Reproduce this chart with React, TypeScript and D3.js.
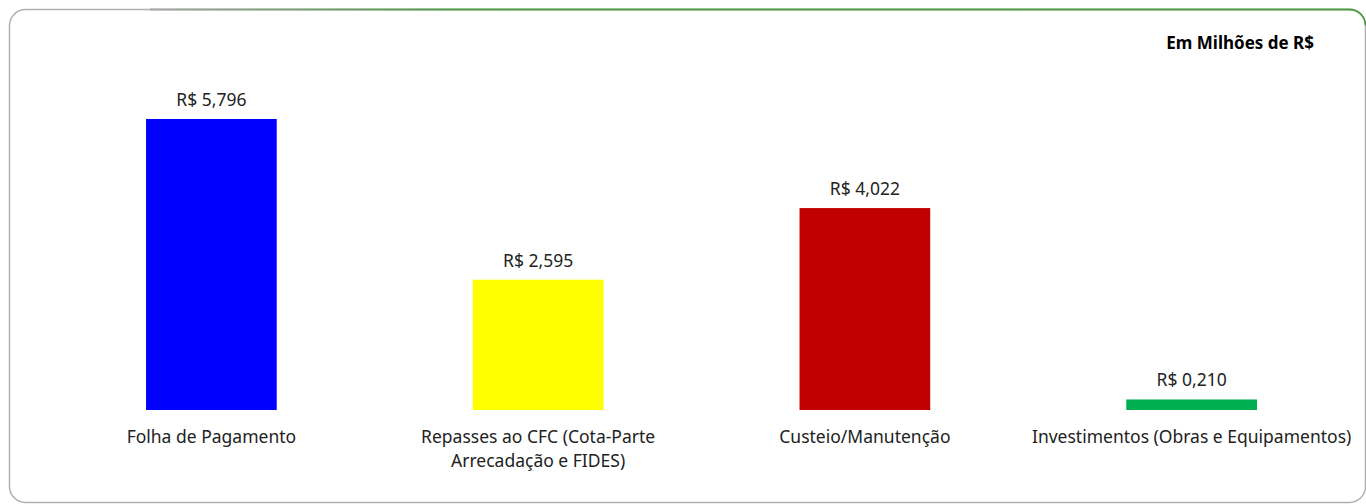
import React from "react";
import * as d3 from "d3";

const categories: string[][] = [
  ["Folha de Pagamento"],
  ["Repasses ao CFC (Cota-Parte", "Arrecadação e FIDES)"],
  ["Custeio/Manutenção"],
  ["Investimentos (Obras e Equipamentos)"],
];
const values: number[] = [5.796, 2.595, 4.022, 0.21];
const valueLabels: string[] = ["R$ 5,796", "R$ 2,595", "R$ 4,022", "R$ 0,210"];
const colors: string[] = ["#0000FF", "#FFFF00", "#C00000", "#00B050"];
const unitLabel = "Em Milhões de R$";

const W = 1366;
const H = 504;
const FONT = "'Noto Sans', 'Open Sans', sans-serif";

export default function App() {
  const keys = categories.map((_, i) => String(i));
  const x = d3
    .scaleBand<string>()
    .domain(keys)
    .range([48, 1355])
    .paddingInner(0.6)
    .paddingOuter(0.3);
  const y = d3.scaleLinear().domain([0, 5.796]).range([410, 119]);

  return (
    <svg
      width={W}
      height={H}
      style={{ position: "absolute", left: 0, top: 0, display: "block", background: "#fff" }}
    >
      <defs>
        <linearGradient id="borderGrad" gradientUnits="userSpaceOnUse" x1={150} y1={0} x2={450} y2={0}>
          <stop offset="0" stopColor="#a6a6a6" />
          <stop offset="1" stopColor="#4f9a45" />
        </linearGradient>
      </defs>
      <rect
        x={9.5}
        y={9.5}
        width={1356}
        height={493}
        rx={16}
        ry={16}
        fill="#fff"
        stroke="#b0b0b0"
        strokeWidth={1.5}
      />
      <path
        d={`M 150 9.5 L 1349.5 9.5 A 16 16 0 0 1 1365.5 25.5`}
        fill="none"
        stroke="url(#borderGrad)"
        strokeWidth={1.8}
      />
      <text
        x={1314}
        y={49}
        textAnchor="end"
        fontFamily={FONT}
        fontWeight="bold"
        fontSize={17}
        fill="#000"
      >
        {unitLabel}
      </text>
      {values.map((v, i) => {
        const bx = x(String(i)) as number;
        const bw = x.bandwidth();
        return (
          <g key={i}>
            <rect x={bx} y={y(v)} width={bw} height={y(0) - y(v)} fill={colors[i]} />
            <text
              x={bx + bw / 2}
              y={y(v) - 13}
              textAnchor="middle"
              fontFamily={FONT}
              fontSize={17.5}
              fill="#222"
            >
              {valueLabels[i]}
            </text>
            {categories[i].map((line, j) => (
              <text
                key={j}
                x={bx + bw / 2}
                y={y(0) + 33 + j * 24}
                textAnchor="middle"
                fontFamily={FONT}
                fontSize={17.5}
                fill="#222"
              >
                {line}
              </text>
            ))}
          </g>
        );
      })}
    </svg>
  );
}
